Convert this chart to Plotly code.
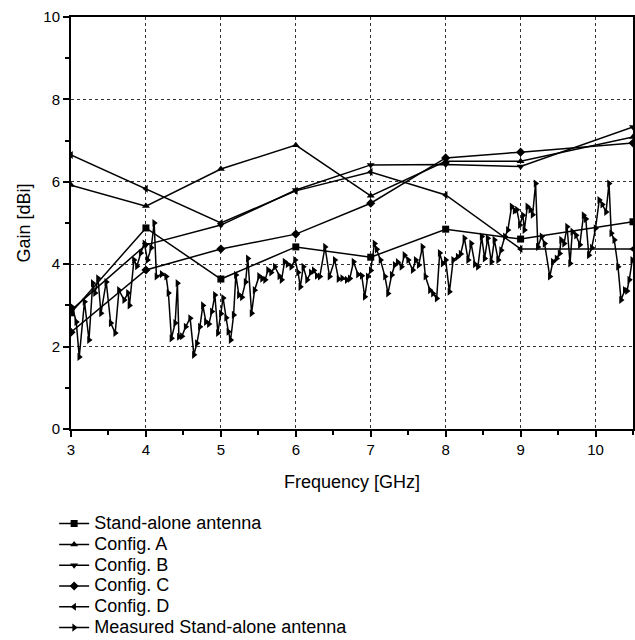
import plotly.graph_objects as go

freq_sim = [3, 4, 5, 6, 7, 8, 9, 10.5]
standalone = [2.82, 4.88, 3.64, 4.42, 4.17, 4.85, 4.61, 5.03]
config_a = [5.92, 5.41, 6.31, 6.89, 5.66, 6.50, 6.50, 7.09]
config_b = [2.88, 4.47, 4.95, 5.80, 6.41, 6.42, 6.37, 7.33]
config_c = [2.35, 3.86, 4.37, 4.73, 5.48, 6.58, 6.72, 6.94]
config_d = [6.65, 5.83, 5.00, 5.78, 6.24, 5.68, 4.37, 4.37]

meas_freq = [3.02, 3.07, 3.11, 3.18, 3.24, 3.29, 3.32, 3.36, 3.40, 3.47, 3.53, 3.59, 3.64, 3.71, 3.76, 3.78,
             3.84, 3.88, 3.93, 3.98, 4.02, 4.07, 4.11, 4.14, 4.21, 4.27, 4.30, 4.34, 4.39, 4.42, 4.44, 4.48,
             4.53, 4.59, 4.64, 4.68, 4.72, 4.76, 4.80, 4.84, 4.88, 4.92, 4.96, 5.00, 5.03, 5.07, 5.10, 5.13,
             5.17, 5.20, 5.24, 5.28, 5.33, 5.36, 5.41, 5.45, 5.51, 5.55, 5.59, 5.63, 5.67, 5.72, 5.78, 5.81,
             5.85, 5.89, 5.94, 5.99, 6.03, 6.06, 6.10, 6.15, 6.20, 6.24, 6.28, 6.32, 6.39, 6.45, 6.52, 6.57,
             6.62, 6.68, 6.72, 6.77, 6.83, 6.88, 6.92, 6.96, 7.00, 7.05, 7.08, 7.13, 7.19, 7.23, 7.28, 7.32,
             7.36, 7.41, 7.45, 7.50, 7.56, 7.60, 7.64, 7.69, 7.73, 7.79, 7.83, 7.88, 7.92, 7.96, 8.00, 8.05,
             8.10, 8.16, 8.20, 8.25, 8.30, 8.34, 8.39, 8.43, 8.48, 8.52, 8.56, 8.61, 8.65, 8.70, 8.74, 8.79,
             8.83, 8.88, 8.92, 8.95, 8.99, 9.03, 9.05, 9.09, 9.13, 9.16, 9.20, 9.23, 9.28, 9.32, 9.39, 9.43,
             9.48, 9.52, 9.54, 9.58, 9.62, 9.66, 9.69, 9.74, 9.79, 9.84, 9.87, 9.91, 9.95, 10.00, 10.05, 10.09,
             10.14, 10.18, 10.21, 10.25, 10.30, 10.34, 10.39, 10.42, 10.45, 10.49]
meas_gain = [2.95, 2.60, 1.75, 3.09, 2.16, 3.54, 3.30, 3.66, 2.81, 3.57, 2.57, 2.33, 3.37, 3.13, 3.30, 3.00,
             4.10, 3.95, 4.27, 4.50, 4.10, 4.40, 5.00, 3.70, 3.76, 3.70, 3.30, 2.20, 2.57, 3.54, 2.24, 2.25,
             2.48, 2.69, 1.80, 2.08, 2.48, 3.00, 2.60, 2.55, 2.85, 3.25, 2.33, 2.80, 3.18, 2.70, 2.36, 2.16,
             2.77, 3.74, 3.25, 3.20, 3.57, 4.14, 2.81, 3.37, 3.71, 3.65, 3.62, 3.86, 3.80, 3.94, 3.71, 3.62,
             4.06, 4.00, 3.94, 4.10, 3.80, 3.45, 3.94, 3.62, 3.80, 3.85, 3.72, 3.70, 4.42, 3.70, 4.10, 3.64,
             3.66, 3.62, 3.65, 4.06, 3.75, 3.72, 3.21, 3.70, 3.85, 4.50, 4.36, 4.10, 3.70, 3.29, 3.74, 3.98,
             4.05, 3.94, 4.22, 4.10, 3.86, 4.10, 3.98, 4.42, 3.70, 3.37, 3.29, 3.17, 4.27, 4.02, 4.10, 3.33,
             4.10, 4.18, 4.25, 4.63, 4.10, 4.50, 4.00, 3.94, 4.67, 4.14, 4.63, 4.06, 4.59, 4.10, 4.34, 4.67,
             4.83, 5.40, 5.30, 5.32, 4.95, 5.19, 4.83, 5.40, 5.32, 5.20, 5.96, 4.42, 4.67, 4.50, 3.70, 4.06,
             4.14, 4.26, 4.59, 4.50, 4.91, 4.02, 4.79, 4.70, 4.47, 5.19, 5.10, 4.22, 4.40, 4.87, 5.56, 5.45,
             5.27, 5.96, 4.75, 4.59, 3.94, 3.13, 3.37, 3.35, 3.62, 4.10]

x_ticks = [3, 4, 5, 6, 7, 8, 9, 10]
y_ticks = [0, 2, 4, 6, 8, 10]

FONT = "Arial, Liberation Sans, sans-serif"

def legend_label(text):
    return '<span style="font-size:18px">' + text + '</span>'

fig = go.Figure()
sim_series = [
    ("Stand-alone antenna", standalone, "square"),
    ("Config. A", config_a, "triangle-up"),
    ("Config. B", config_b, "triangle-down"),
    ("Config. C", config_c, "diamond"),
    ("Config. D", config_d, "triangle-left"),
]
for name, vals, sym in sim_series:
    fig.add_trace(go.Scatter(
        x=freq_sim, y=vals, name=legend_label(name), mode="lines+markers",
        line=dict(color="black", width=1.5),
        marker=dict(symbol=sym, size=7, color="black"),
        legendgroup="sim",
    ))
fig.add_trace(go.Scatter(
    x=meas_freq, y=meas_gain, name=legend_label("Measured Stand-alone antenna"), mode="lines+markers",
    line=dict(color="black", width=1.5),
    marker=dict(symbol="triangle-right", size=7, color="black"),
    legendgroup="meas",
))

axis_common = dict(
    showline=True, linecolor="black", linewidth=2, mirror=True,
    ticks="outside", ticklen=6, tickwidth=1.5, tickcolor="black",
    showgrid=True, gridcolor="#333", gridwidth=1, griddash="dot",
    zeroline=False, automargin=False,
    tickfont=dict(family=FONT, size=15, color="black"),
)
fig.update_xaxes(
    range=[3, 10.5], tickvals=x_ticks, ticktext=[str(t) for t in x_ticks],
    minor=dict(dtick=0.5, ticks="outside", ticklen=4, tickcolor="black", showgrid=False),
    title=dict(text="Frequency [GHz]", font=dict(family=FONT, size=18, color="black"), standoff=18),
    **axis_common,
)
fig.update_yaxes(
    range=[0, 10], tickvals=y_ticks, ticktext=[str(t) for t in y_ticks],
    minor=dict(dtick=1, ticks="outside", ticklen=4, tickcolor="black", showgrid=False),
    title=dict(text="Gain [dBi]", font=dict(family=FONT, size=18, color="black"), standoff=8),
    **axis_common,
)
fig.update_layout(
    width=635, height=640,
    margin=dict(l=71, r=2, t=17, b=211, autoexpand=False),
    paper_bgcolor="white", plot_bgcolor="white",
    font=dict(family=FONT, size=15, color="black"),
    showlegend=True,
    legend=dict(
        xref="paper", yref="container",
        x=-0.030, y=0.206, xanchor="left", yanchor="top",
        orientation="v", traceorder="grouped", tracegroupgap=0,
        font=dict(family=FONT, size=13.7, color="black"),
        bgcolor="rgba(0,0,0,0)",
    ),
)
fig.write_html("out.html")
